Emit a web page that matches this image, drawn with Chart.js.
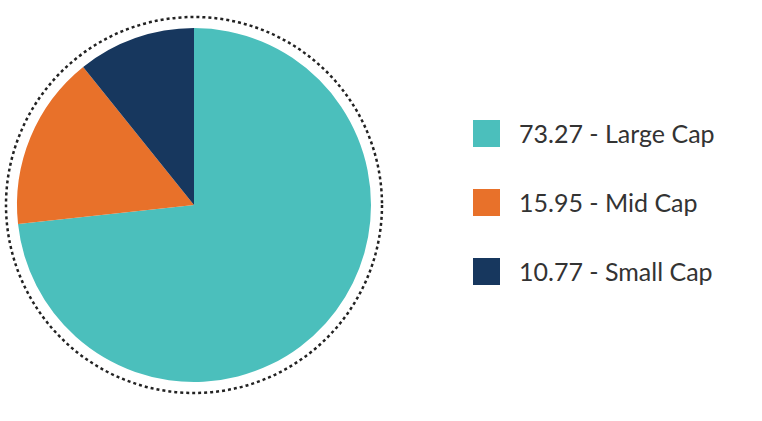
<!DOCTYPE html>
<html>
<head>
<meta charset="utf-8">
<script src="https://cdn.jsdelivr.net/npm/chart.js@4"></script>
<style>
  body { margin: 0; background: #fff; width: 762px; height: 421px; position: relative; overflow: hidden; }
  #wrap { position: absolute; left: 0; top: 0; width: 388px; height: 410px; }
  #legend { position: absolute; left: 473px; top: 116px; font-family: Lato, sans-serif; font-size: 25px; color: #333; }
  .item { display: flex; align-items: center; height: 34px; margin-bottom: 35px; }
  .sw { width: 27px; height: 27px; margin-right: 19px; }
</style>
</head>
<body>
<div id="wrap"><canvas id="pie"></canvas></div>
<div id="legend"></div>
<script>
// Cap-size split
const labels = ['Large Cap', 'Mid Cap', 'Small Cap'];
const values = [73.27, 15.95, 10.77];
const colors = ['#4bbfbc', '#e8712a', '#17375e'];

// Dotted ring around the pie
const ringPlugin = {
  id: 'ring',
  afterDraw(chart) {
    const arc = chart.getDatasetMeta(0).data[0];
    const ctx = chart.ctx;
    ctx.save();
    ctx.beginPath();
    ctx.setLineDash([3, 3]);
    ctx.lineWidth = 2.5;
    ctx.strokeStyle = '#222';
    ctx.arc(arc.x, arc.y, arc.outerRadius + 11, 0, Math.PI * 2);
    ctx.stroke();
    ctx.restore();
  }
};

new Chart(document.getElementById('pie'), {
  type: 'pie',
  data: {
    labels: labels,
    datasets: [{ data: values, backgroundColor: colors, borderWidth: 0 }]
  },
  options: {
    responsive: true,
    maintainAspectRatio: false,
    animation: false,
    layout: { padding: 17 },
    plugins: { legend: { display: false }, tooltip: { enabled: false } }
  },
  plugins: [ringPlugin]
});

const legend = document.getElementById('legend');
labels.forEach((l, i) => {
  const d = document.createElement('div');
  d.className = 'item';
  d.innerHTML = '<div class="sw" style="background:' + colors[i] + '"></div><span>' + values[i].toFixed(2) + ' - ' + l + '</span>';
  legend.appendChild(d);
});
</script>
</body>
</html>
